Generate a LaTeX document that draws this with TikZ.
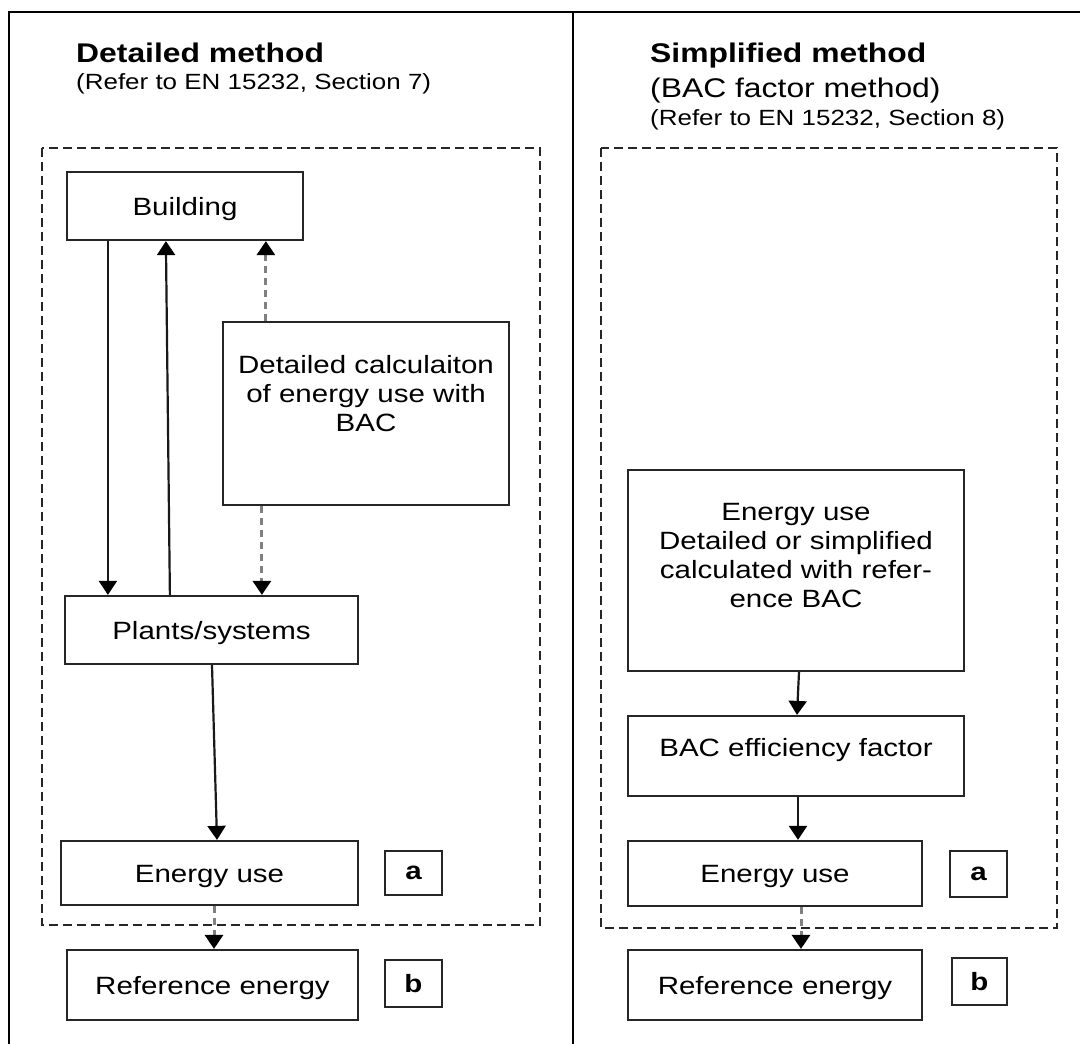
\documentclass[tikz,border=0pt]{standalone}
\usepackage{fontspec}
\setmainfont{Liberation Sans}[FakeStretch=1.18]
\usetikzlibrary{arrows.meta}
\begin{document}
\begin{tikzpicture}[x=1pt,y=-1pt,
  box/.style={draw=black!85, line width=2.2pt, inner sep=0pt, font=\fontsize{25}{29}\selectfont, text height=18pt, text depth=0pt, align=center},
  tag/.style={draw=black!85, line width=2.2pt, inner sep=0pt, font=\fontsize{25}{29}\selectfont\bfseries, text depth=0pt},
  txt/.style={inner sep=0pt, font=\fontsize{25}{29}\selectfont, align=center},
  ttl/.style={inner sep=0pt, anchor=base west, font=\fontsize{27}{32}\selectfont\bfseries},
  sub/.style={inner sep=0pt, anchor=base west, font=\fontsize{22}{26}\selectfont},
  subbig/.style={inner sep=0pt, anchor=base west, font=\fontsize{27}{32}\selectfont},
  frame/.style={line width=2.2pt, black},
  zone/.style={draw=black!85, line width=1.8pt, dash pattern=on 9pt off 5pt},
  arr/.style={line width=2.2pt, black!90, -{Triangle[width=18pt,length=14pt,color=black,fill=black]}},
  darr/.style={line width=3pt, black!50, dash pattern=on 7pt off 5pt, -{Triangle[width=18pt,length=14pt,color=black,fill=black]}}
]
\useasboundingbox (0,0) rectangle (1080,1044);

% frame
\draw[frame] (1080,12) -- (9,12) -- (9,1044);
\draw[frame] (573,12) -- (573,1044);

% titles
\node[ttl] (t1) at (76,62) {Detailed method};
\node[sub] (s1) at (76,89) {(Refer to EN 15232, Section 7)};
\node[ttl] (t2) at (650,62) {Simplified method};
\node[subbig] (s2) at (650,97) {(BAC factor method)};
\node[sub] (s3) at (650,125) {(Refer to EN 15232, Section 8)};

% dashed zones
\draw[zone] (42,148) rectangle (540,925);
\draw[zone] (601,148) rectangle (1057,928);

% left column
\node[box, minimum width=236pt, minimum height=68pt] (build) at (185,206) {Building};
\node[box, minimum width=286pt, minimum height=183pt] (calc) at (366,413.5) {};
\node[txt, anchor=north] (calctxt) at (366,355) {Detailed calculaiton\\of energy use with\\BAC};
\node[box, minimum width=293pt, minimum height=68pt] (plants) at (211.5,630) {Plants/systems};
\node[box, minimum width=297pt, minimum height=64pt] (eul) at (209.5,873) {Energy use};
\node[tag, text height=13pt, minimum width=57pt, minimum height=44pt] (al) at (413.5,873) {a};
\node[box, minimum width=291pt, minimum height=70pt] (refl) at (212.5,985) {Reference energy};
\node[tag, text height=18pt, minimum width=57pt, minimum height=47pt] (bl) at (413.5,983.5) {b};

% right column
\node[box, minimum width=336pt, minimum height=201pt] (eud) at (796,570.5) {};
\node[txt, anchor=north] (eudtxt) at (796,503) {Energy use\\Detailed or simplified\\calculated with refer-\\ence BAC};
\node[box, minimum width=336pt, minimum height=80pt] (bac) at (796,756) {};
\node[txt, anchor=base] (bactxt) at (796,756) {BAC efficiency factor};
\node[box, minimum width=294pt, minimum height=65pt] (eur) at (775,873.5) {Energy use};
\node[tag, text height=13pt, minimum width=57pt, minimum height=46pt] (ar) at (978.5,874) {a};
\node[box, minimum width=294pt, minimum height=70pt] (refr) at (775,985) {Reference energy};
\node[tag, text height=18pt, minimum width=55pt, minimum height=47pt] (br) at (979.5,981.5) {b};

% left connectors
\draw[arr] ([xshift=42pt]build.south west) -- ([xshift=44pt]plants.north west);
\draw[arr] ([xshift=106pt]plants.north west) -- ([xshift=100pt]build.south west);
\draw[darr] ([xshift=44pt]calc.north west) -- ([xshift=200pt]build.south west);
\draw[darr] ([xshift=40pt]calc.south west) -- ([xshift=198pt]plants.north west);
\draw[arr] ([xshift=0.5pt]plants.south) -- ([xshift=7.5pt]eul.north);
\draw[darr] ([xshift=4.5pt]eul.south) -- ([xshift=1.5pt]refl.north);

% right connectors
\draw[arr] ([xshift=3pt]eud.south) -- ([xshift=1pt]bac.north);
\draw[arr] ([xshift=2pt]bac.south) -- ([xshift=23pt]eur.north);
\draw[darr] ([xshift=26pt]eur.south) -- ([xshift=26pt]refr.north);
\end{tikzpicture}
\end{document}
